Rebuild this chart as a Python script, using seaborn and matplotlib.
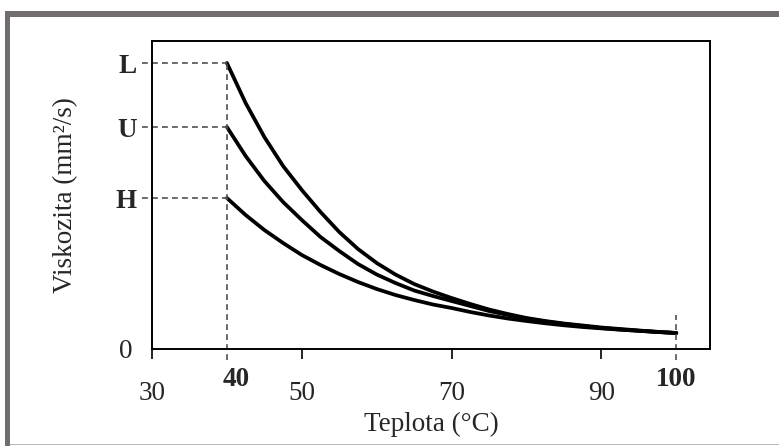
import numpy as np
import pandas as pd
import matplotlib
matplotlib.use("Agg")
import matplotlib.pyplot as plt
import seaborn as sns
from matplotlib.patches import Rectangle

# ==========================
# Data
# ==========================

teplota = [
    40, 42.5, 45, 47.5, 50, 52.5, 55, 57.5, 60, 62.5, 65, 67.5, 70,
    72.5, 75, 77.5, 80, 82.5, 85, 87.5, 90, 92.5, 95, 97.5, 100
]

viskozita_L = [
    28.6, 24.6, 21.2, 18.3, 15.9, 13.7, 11.7, 10.0, 8.6, 7.45, 6.5, 5.75, 5.1,
    4.5, 3.95, 3.5, 3.1, 2.8, 2.55, 2.35, 2.15, 2.0, 1.85, 1.72, 1.6
]

viskozita_U = [
    22.2, 19.3, 16.8, 14.7, 12.9, 11.2, 9.8, 8.5, 7.45, 6.6, 5.85, 5.3, 4.8,
    4.3, 3.8, 3.4, 3.05, 2.75, 2.5, 2.3, 2.1, 1.95, 1.82, 1.7, 1.6
]

viskozita_H = [
    15.1, 13.4, 11.9, 10.6, 9.4, 8.4, 7.5, 6.7, 6.0, 5.4, 4.9, 4.45, 4.1,
    3.7, 3.35, 3.05, 2.8, 2.57, 2.37, 2.2, 2.06, 1.93, 1.82, 1.7, 1.6
]

oleje = ["L", "U", "H"]

x_ticks = [30, 50, 70, 90]
x_bold = [40, 100]

# ==========================
# Long form table
# ==========================

df = pd.concat([
    pd.DataFrame({"teplota": teplota, "viskozita": v, "olej": o})
    for o, v in zip(oleje, [viskozita_L, viskozita_U, viskozita_H])
])

start = {o: v[0] for o, v in zip(oleje, [viskozita_L, viskozita_U, viskozita_H])}

# ==========================
# Style
# ==========================

sns.set_style("white")

plt.rcParams["font.family"] = ["Liberation Serif", "DejaVu Serif"]

fs = 19.5

fig = plt.figure(figsize=(7.79, 4.46), dpi=100)

ax = fig.add_axes([152 / 779, 1 - 349 / 446, 558 / 779, 308 / 446])

# ==========================
# Curves
# ==========================

sns.lineplot(
    data=df,
    x="teplota",
    y="viskozita",
    hue="olej",
    palette={o: "black" for o in oleje},
    linewidth=2.7,
    estimator=None,
    sort=False,
    legend=False,
    ax=ax
)

# ==========================
# Dashed guides
# ==========================

guide = dict(colors="#505050", linestyles=(0, (3.5, 2.5)), linewidth=1.2, clip_on=False)

ax.hlines(
    [start[o] for o in oleje],
    28.7,
    teplota[0],
    **guide
)

ax.vlines(teplota[0], -1.1, start["L"], **guide)

ax.vlines(teplota[-1], -1.1, viskozita_L[-1] + 1.8, **guide)

# ==========================
# Axes
# ==========================

ax.set_xlim(30, 104.5)
ax.set_ylim(0, 30.8)

ax.set_xticks(x_ticks)
ax.set_xticklabels([str(t) for t in x_ticks], fontsize=fs)

ax.set_yticks([0] + [start[o] for o in oleje])
ax.set_yticklabels(["0"] + oleje, fontsize=fs)

for lab in ax.get_yticklabels()[1:]:
    lab.set_fontweight("bold")

ax.tick_params(axis="x", bottom=True, direction="out", length=7, width=1.2, pad=16, color="black")
ax.tick_params(axis="y", left=True, length=0, pad=11)

ax.yaxis.get_major_ticks()[0].set_pad(14)

for t in x_bold:
    ax.annotate(
        str(t),
        xy=(t, 0),
        xycoords=("data", "axes fraction"),
        xytext=(9 if t == 40 else 0, -30),
        textcoords="offset pixels",
        ha="center",
        va="center",
        fontsize=fs,
        fontweight="bold"
    )

for s in ax.spines.values():
    s.set_visible(True)
    s.set_linewidth(1.4)
    s.set_color("black")

ax.set_xlabel("Teplota (°C)", fontsize=fs, labelpad=4)
ax.set_ylabel("Viskozita (mm²/s)", fontsize=fs, labelpad=27)

# ==========================
# Gray frame
# ==========================

fig.add_artist(Rectangle((5 / 779, 1 - 17 / 446), 1, 6 / 446, transform=fig.transFigure, color="#726e6d", lw=0))
fig.add_artist(Rectangle((5 / 779, 0), 5 / 779, 1 - 11 / 446, transform=fig.transFigure, color="#726e6d", lw=0))
fig.add_artist(Rectangle((10 / 779, 1 / 446), 1, 1.5 / 446, transform=fig.transFigure, color="#b8b8b8", lw=0))

fig.savefig("out.png", dpi=100)
